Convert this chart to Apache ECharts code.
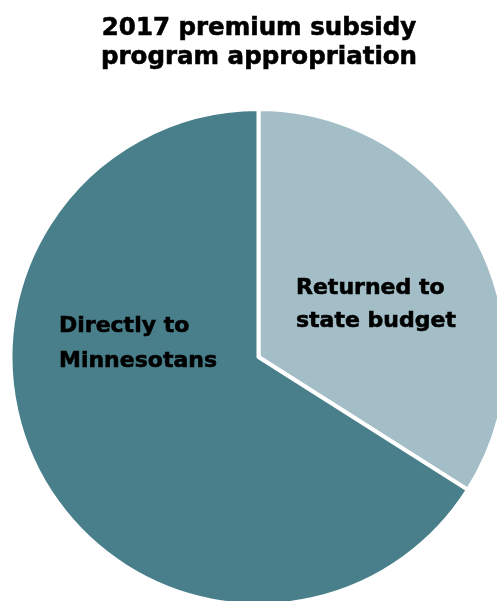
<!DOCTYPE html>
<html>
<head>
<meta charset="utf-8">
<script src="https://cdn.jsdelivr.net/npm/echarts@6/dist/echarts.min.js"></script>
<style>
html,body{margin:0;padding:0;background:#fff;}
#chart{width:497px;height:601px;}
</style>
</head>
<body>
<div id="chart"></div>
<script>
var titleLines = ['2017 premium subsidy', 'program appropriation'];
var categories = ['Returned to\nstate budget', 'Directly to\nMinnesotans'];
var values = [34, 66];
var colors = ['#a3bec7', '#487f8b'];

var labelSpots = [
  {x: 296, y: 305, lh: 33},
  {x: 59, y: 344, lh: 34.5}
];

var chart = echarts.init(document.getElementById('chart'), null, {renderer: 'canvas'});
chart.setOption({
  animation: false,
  title: {
    text: titleLines.join('\n'),
    left: 259,
    top: 13.5,
    textAlign: 'center',
    padding: 0,
    textStyle: {
      fontFamily: 'DejaVu Sans',
      fontWeight: 'bold',
      fontSize: 24.5,
      lineHeight: 29.3,
      color: '#000',
      textBorderColor: '#000',
      textBorderWidth: 0.6
    }
  },
  series: [{
    type: 'pie',
    center: [258.5, 357],
    radius: [0, 248],
    startAngle: 90,
    clockwise: true,
    silent: true,
    itemStyle: {borderColor: '#ffffff', borderWidth: 4},
    label: {
      show: true,
      position: 'inside',
      fontFamily: 'DejaVu Sans',
      fontWeight: 'bold',
      fontSize: 22,
      color: '#000',
      textBorderColor: '#000',
      textBorderWidth: 0.6,
      align: 'left'
    },
    labelLine: {show: false},
    labelLayout: function (p) {
      var s = labelSpots[p.dataIndex];
      return {x: s.x, y: s.y, align: 'left', verticalAlign: 'middle'};
    },
    data: categories.map(function (c, i) {
      return {
        name: c,
        value: values[i],
        itemStyle: {color: colors[i]},
        label: {formatter: '{b}', lineHeight: labelSpots[i].lh}
      };
    })
  }]
});
</script>
</body>
</html>
